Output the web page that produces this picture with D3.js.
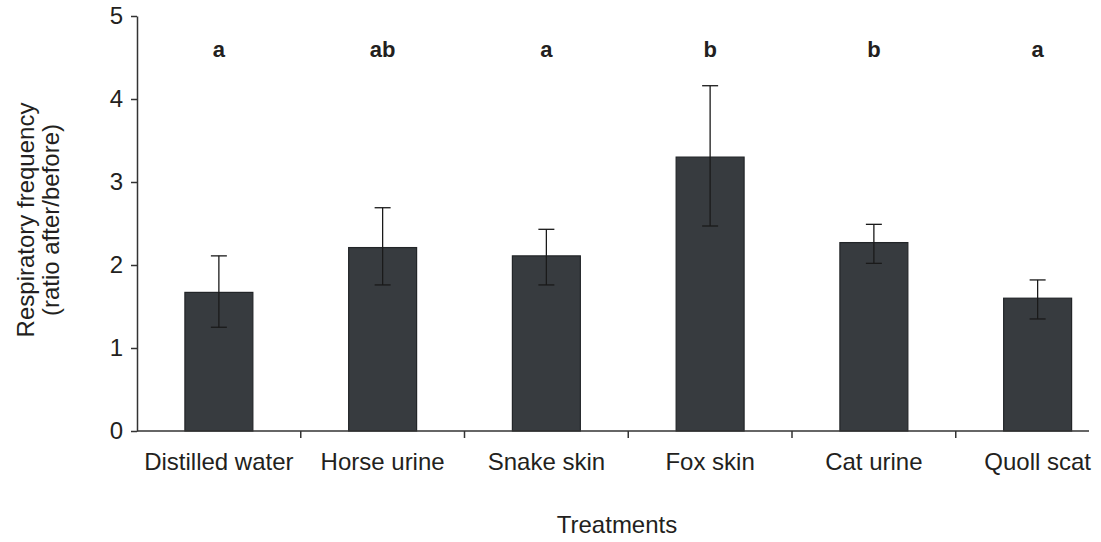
<!DOCTYPE html>
<html>
<head>
<meta charset="utf-8">
<script src="https://cdn.jsdelivr.net/npm/d3@7/dist/d3.min.js"></script>
<style>
  body { margin: 0; background: #fff; }
  text { font-family: "Liberation Sans", Arial, sans-serif; fill: #231f20; }
</style>
</head>
<body>
<script>
// data
var treatments = ["Distilled water", "Horse urine", "Snake skin", "Fox skin", "Cat urine", "Quoll scat"];
var means      = [1.67, 2.21, 2.11, 3.30, 2.27, 1.60];
var errLow     = [1.25, 1.76, 1.76, 2.47, 2.02, 1.35];
var errHigh    = [2.11, 2.69, 2.43, 4.16, 2.49, 1.82];
var groups     = ["a", "ab", "a", "b", "b", "a"];
var yTicks     = [0, 1, 2, 3, 4, 5];

var W = 1101, H = 542;
var mLeft = 137, mTop = 16, mBottom = 431;
var band = 163.75;

var svg = d3.select("body").append("svg")
  .attr("width", W).attr("height", H);

var x = d3.scaleBand()
  .domain(treatments)
  .range([mLeft, mLeft + band * treatments.length])
  .paddingInner(0.585).paddingOuter(0.2925);

var xb = d3.scaleBand()
  .domain(treatments)
  .range([mLeft, mLeft + band * treatments.length]);

var y = d3.scaleLinear().domain([0, 5]).range([mBottom, mTop]);

// bars
svg.selectAll("rect.bar")
  .data(treatments)
  .enter().append("rect")
  .attr("class", "bar")
  .attr("x", function(d) { return x(d); })
  .attr("width", x.bandwidth())
  .attr("y", function(d, i) { return y(means[i]); })
  .attr("height", function(d, i) { return y(0) - y(means[i]); })
  .attr("fill", "#373b3f")
  .attr("stroke", "#222528")
  .attr("stroke-width", 1.2);

// error bars
var eb = svg.selectAll("g.err")
  .data(treatments)
  .enter().append("g")
  .attr("class", "err")
  .attr("stroke", "#1a1a1a")
  .attr("stroke-width", 1.3);

eb.append("line")
  .attr("x1", function(d) { return x(d) + x.bandwidth() / 2; })
  .attr("x2", function(d) { return x(d) + x.bandwidth() / 2; })
  .attr("y1", function(d, i) { return y(errLow[i]); })
  .attr("y2", function(d, i) { return y(errHigh[i]); });

eb.append("line")
  .attr("x1", function(d) { return x(d) + x.bandwidth() / 2 - 8; })
  .attr("x2", function(d) { return x(d) + x.bandwidth() / 2 + 8; })
  .attr("y1", function(d, i) { return y(errHigh[i]); })
  .attr("y2", function(d, i) { return y(errHigh[i]); });

eb.append("line")
  .attr("x1", function(d) { return x(d) + x.bandwidth() / 2 - 8; })
  .attr("x2", function(d) { return x(d) + x.bandwidth() / 2 + 8; })
  .attr("y1", function(d, i) { return y(errLow[i]); })
  .attr("y2", function(d, i) { return y(errLow[i]); });

// significance letters
svg.selectAll("text.grp")
  .data(treatments)
  .enter().append("text")
  .attr("class", "grp")
  .attr("x", function(d) { return x(d) + x.bandwidth() / 2; })
  .attr("y", 57)
  .attr("text-anchor", "middle")
  .style("font-size", "22px")
  .style("font-weight", "bold")
  .text(function(d, i) { return groups[i]; });

// y axis
var yAxis = svg.append("g")
  .attr("transform", "translate(" + mLeft + ",0)")
  .call(d3.axisLeft(y).tickValues(yTicks).tickFormat(d3.format("d"))
    .tickSize(6).tickSizeOuter(0).tickPadding(8));
yAxis.selectAll("text").style("font-size", "24px").attr("fill", "#231f20");
yAxis.selectAll("line, path").attr("stroke", "#333").attr("stroke-width", 1.5);

// x axis: ticks at band boundaries
var xAxis = svg.append("g")
  .attr("transform", "translate(0," + mBottom + ")");
xAxis.append("line")
  .attr("x1", mLeft).attr("x2", 1089)
  .attr("stroke", "#333").attr("stroke-width", 1.5);
xAxis.selectAll("line.tk")
  .data(treatments.slice(1))
  .enter().append("line")
  .attr("class", "tk")
  .attr("x1", function(d) { return xb(d); })
  .attr("x2", function(d) { return xb(d); })
  .attr("y1", 0).attr("y2", 7)
  .attr("stroke", "#333").attr("stroke-width", 1.5);
xAxis.selectAll("text")
  .data(treatments)
  .enter().append("text")
  .attr("x", function(d) { return xb(d) + xb.bandwidth() / 2; })
  .attr("y", 39)
  .attr("text-anchor", "middle")
  .style("font-size", "24px")
  .text(function(d) { return d; });

// axis titles
svg.append("text")
  .attr("x", 617).attr("y", 533)
  .attr("text-anchor", "middle")
  .style("font-size", "24px")
  .text("Treatments");

var yt = svg.append("text")
  .attr("transform", "translate(0,220) rotate(-90)")
  .attr("text-anchor", "middle")
  .style("font-size", "24px");
yt.append("tspan").attr("x", 0).attr("y", 34).text("Respiratory frequency");
yt.append("tspan").attr("x", 0).attr("y", 59).text("(ratio after/before)");
</script>
</body>
</html>
